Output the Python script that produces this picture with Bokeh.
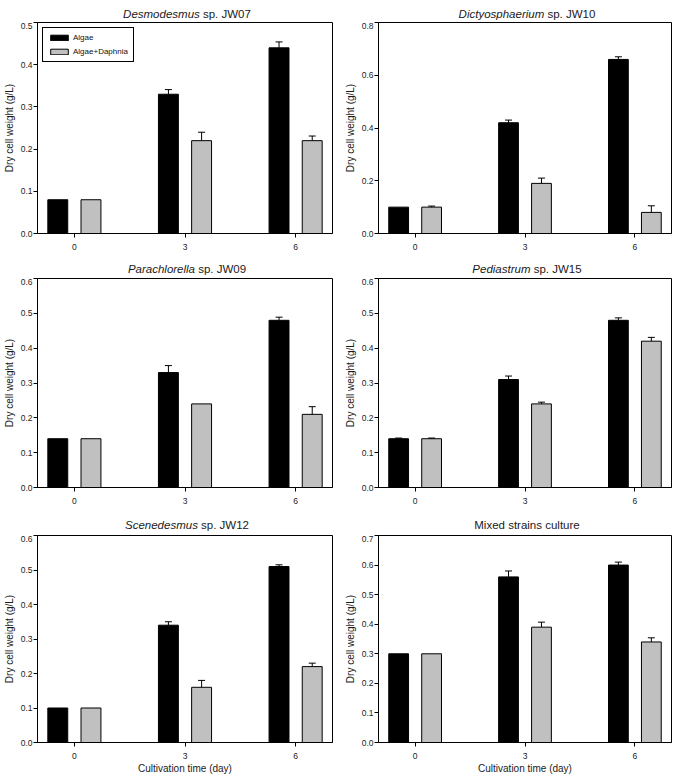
from bokeh.plotting import figure
from bokeh.models import (ColumnDataSource, Whisker, TeeHead, Label, FixedTicker,
                          PrintfTickFormatter, Range1d)
from bokeh.layouts import column, row
from bokeh.embed import file_html
from bokeh.resources import INLINE

# ---------------- data ----------------
days = [0, 3, 6]
series_names = ["Algae", "Algae+Daphnia"]

titles_italic = ["Desmodesmus", "Dictyosphaerium", "Parachlorella", "Pediastrum", "Scenedesmus", ""]
titles_plain = ["sp. JW07", "sp. JW10", "sp. JW09", "sp. JW15", "sp. JW12", "Mixed strains culture"]

y_max = [0.5, 0.8, 0.6, 0.6, 0.6, 0.7]
y_step = [0.1, 0.2, 0.1, 0.1, 0.1, 0.1]

algae_jw07 = [0.08, 0.33, 0.44]
algae_jw07_err = [0.0, 0.011, 0.014]
daphnia_jw07 = [0.08, 0.22, 0.22]
daphnia_jw07_err = [0.0, 0.02, 0.011]

algae_jw10 = [0.10, 0.42, 0.66]
algae_jw10_err = [0.0, 0.01, 0.01]
daphnia_jw10 = [0.10, 0.19, 0.08]
daphnia_jw10_err = [0.004, 0.02, 0.025]

algae_jw09 = [0.14, 0.33, 0.48]
algae_jw09_err = [0.0, 0.02, 0.009]
daphnia_jw09 = [0.14, 0.24, 0.21]
daphnia_jw09_err = [0.0, 0.0, 0.022]

algae_jw15 = [0.14, 0.31, 0.48]
algae_jw15_err = [0.002, 0.01, 0.007]
daphnia_jw15 = [0.14, 0.24, 0.42]
daphnia_jw15_err = [0.002, 0.005, 0.011]

algae_jw12 = [0.10, 0.34, 0.51]
algae_jw12_err = [0.0, 0.01, 0.005]
daphnia_jw12 = [0.10, 0.16, 0.22]
daphnia_jw12_err = [0.0, 0.02, 0.01]

algae_mix = [0.30, 0.56, 0.60]
algae_mix_err = [0.0, 0.02, 0.01]
daphnia_mix = [0.30, 0.39, 0.34]
daphnia_mix_err = [0.0, 0.017, 0.014]

panels = [
    (algae_jw07, algae_jw07_err, daphnia_jw07, daphnia_jw07_err),
    (algae_jw10, algae_jw10_err, daphnia_jw10, daphnia_jw10_err),
    (algae_jw09, algae_jw09_err, daphnia_jw09, daphnia_jw09_err),
    (algae_jw15, algae_jw15_err, daphnia_jw15, daphnia_jw15_err),
    (algae_jw12, algae_jw12_err, daphnia_jw12, daphnia_jw12_err),
    (algae_mix, algae_mix_err, daphnia_mix, daphnia_mix_err),
]

# ---------------- styling ----------------
FONT = "Liberation Sans"
BAR_W = 0.54
OFFSET = 0.45
COLORS = ["#000000", "#c0c0c0"]
TITLE_SIZE = 11.5
TEXT_COLOR = "#1a1a1a"

# Arial advance widths (per 1000 em) for title placement
ARIAL = {"a": 556, "c": 500, "d": 556, "e": 556, "h": 556, "i": 222, "l": 222,
         "m": 833, "n": 556, "o": 556, "p": 556, "r": 333, "s": 500, "t": 278,
         "u": 556, "y": 500, "D": 722, "P": 667, "S": 667, "J": 500, "W": 944,
         "M": 833, "x": 500, ".": 278, " ": 278}


def tw(s, size):
    return sum(ARIAL.get(c, 556) for c in s) * size / 1000.0


# layout per column / row
col_cfg = [dict(left=37, fw=295, right=5), dict(left=41, fw=293, right=4)]
row_cfg = [dict(strip=22, fh=211, bottom=24, ty=9),
           dict(strip=21, fh=209, bottom=24, ty=10),
           dict(strip=24, fh=207, bottom=34, ty=11)]


def make_title_strip(i):
    r, c = divmod(i, 2)
    cc, rc = col_cfg[c], row_cfg[r]
    wtot = cc["left"] + cc["fw"] + cc["right"]
    s = figure(width=wtot, height=rc["strip"], min_border=0,
               x_axis_type=None, y_axis_type=None,
               x_range=Range1d(0, 1), y_range=Range1d(0, 1),
               output_backend="svg", toolbar_location=None,
               background_fill_color="white", border_fill_color="white")
    s.grid.visible = False
    s.outline_line_color = None
    it, pl = titles_italic[i], titles_plain[i]
    ty = rc["ty"]
    # screen x is measured from the (column-aligned) frame's left edge
    center = cc["fw"] / 2 + 2
    size = f"{TITLE_SIZE}px"
    if it:
        total = tw(it, TITLE_SIZE) + tw(" ", TITLE_SIZE) + tw(pl, TITLE_SIZE)
        x0 = center - total / 2
        s.add_layout(Label(x=x0, y=ty, x_units="screen", y_units="screen", text=it,
                           text_font=FONT, text_font_style="italic",
                           text_font_size=size, text_color=TEXT_COLOR,
                           text_baseline="alphabetic", text_align="left"))
        s.add_layout(Label(x=x0 + tw(it + " ", TITLE_SIZE), y=ty, x_units="screen",
                           y_units="screen", text=pl, text_font=FONT,
                           text_font_size=size, text_color=TEXT_COLOR,
                           text_baseline="alphabetic", text_align="left"))
    else:
        s.add_layout(Label(x=center, y=ty, x_units="screen", y_units="screen", text=pl,
                           text_font=FONT, text_font_size=size,
                           text_color=TEXT_COLOR, text_baseline="alphabetic",
                           text_align="center"))
    return s


def make_panel(i):
    r, c = divmod(i, 2)
    cc, rc = col_cfg[c], row_cfg[r]
    a, ae, d, de = panels[i]
    p = figure(frame_width=cc["fw"], frame_height=rc["fh"],
               min_border_left=cc["left"], min_border_right=cc["right"],
               min_border_top=0, min_border_bottom=rc["bottom"],
               x_range=Range1d(-1, 7), y_range=Range1d(0, y_max[i]),
               output_backend="svg", toolbar_location=None,
               background_fill_color="white", border_fill_color="white")
    p.grid.visible = False
    p.outline_line_color = "black"
    p.outline_line_width = 1
    p.outline_line_alpha = 1

    for k, (vals, errs) in enumerate([(a, ae), (d, de)]):
        xs = [x + (OFFSET if k else -OFFSET) for x in days]
        src = ColumnDataSource(dict(x=xs, top=vals))
        kw = {}
        if i == 0:
            kw["legend_label"] = series_names[k]
        p.vbar(x="x", top="top", width=BAR_W, bottom=0, source=src,
               fill_color=COLORS[k], line_color="black", line_width=1, **kw)
        ex = [x for x, e in zip(xs, errs) if e > 0]
        elo = [v for v, e in zip(vals, errs) if e > 0]
        ehi = [v + e for v, e in zip(vals, errs) if e > 0]
        if ex:
            esrc = ColumnDataSource(dict(x=ex, lower=elo, upper=ehi))
            p.add_layout(Whisker(base="x", lower="lower", upper="upper", source=esrc,
                                 line_color="black", line_width=1, level="overlay",
                                 lower_head=None,
                                 upper_head=TeeHead(size=7, line_color="black", line_width=1)))

    # axes
    p.xaxis.ticker = FixedTicker(ticks=days)
    ticks = [round(k * y_step[i], 2) for k in range(int(round(y_max[i] / y_step[i])) + 1)]
    p.yaxis.ticker = FixedTicker(ticks=ticks)
    p.yaxis.formatter = PrintfTickFormatter(format="%.1f")
    for ax in (p.xaxis, p.yaxis):
        ax.axis_line_color = "black"
        ax.major_tick_line_color = "black"
        ax.minor_tick_line_color = None
        ax.major_tick_in = 0
        ax.major_tick_out = 4
        ax.major_label_text_font = FONT
        ax.major_label_text_font_size = "8.5px"
        ax.major_label_text_color = "#222222"
        ax.axis_label_text_font = FONT
        ax.axis_label_text_font_size = "10px"
        ax.axis_label_text_font_style = "normal"
        ax.axis_label_text_color = TEXT_COLOR
    p.yaxis.major_label_standoff = 1
    p.xaxis.major_label_standoff = 6
    p.yaxis.axis_label = "Dry cell weight (g/L)"
    p.yaxis.axis_label_standoff = 3
    if r == 2:
        p.xaxis.axis_label = "Cultivation time (day)"
        p.xaxis.axis_label_standoff = 1

    if i == 0:
        lg = p.legend[0]
        lg.location = "top_left"
        lg.margin = 5
        lg.padding = 5
        lg.spacing = 5
        lg.glyph_width = 22
        lg.glyph_height = 7
        lg.label_height = 7
        lg.label_standoff = 3
        lg.label_text_font = FONT
        lg.label_text_font_size = "8px"
        lg.label_text_color = "#111111"
        lg.border_line_color = "black"
        lg.border_line_width = 1
        lg.border_line_alpha = 1
        lg.background_fill_color = "white"
        lg.background_fill_alpha = 1
    return p


cells = [column(make_title_strip(i), make_panel(i), spacing=0) for i in range(6)]
layout = column(row(cells[0], cells[1]), row(cells[2], cells[3]), row(cells[4], cells[5]))

open("out.html", "w").write(file_html(layout, INLINE))
